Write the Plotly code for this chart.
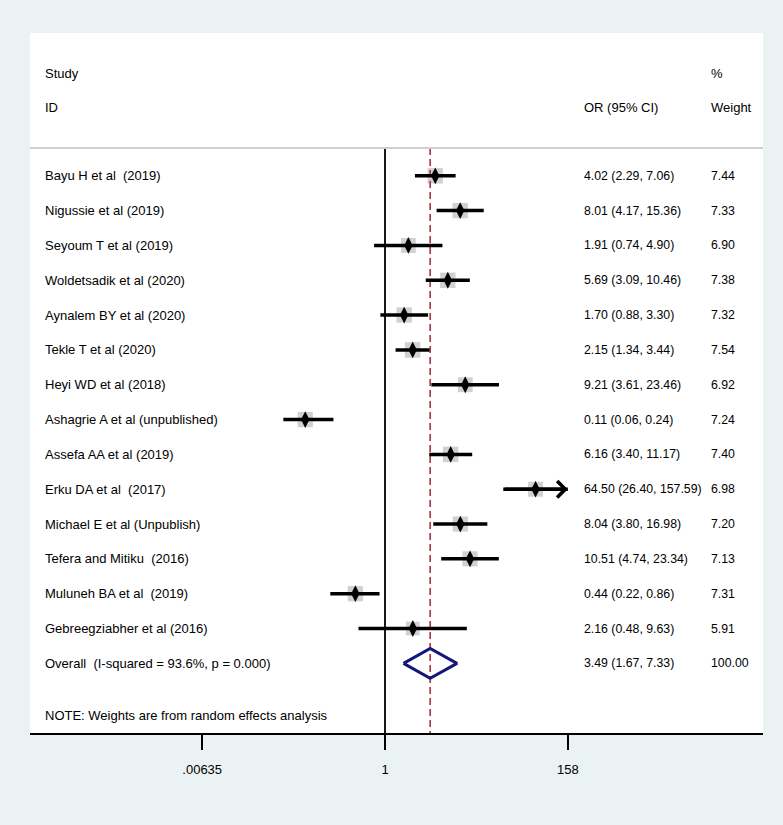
import numpy as np
import plotly.graph_objects as go

# ---------------- data ----------------
studies = [
    "Bayu H et al\u00a0\u00a0(2019)",
    "Nigussie et al (2019)",
    "Seyoum T et al (2019)",
    "Woldetsadik et al (2020)",
    "Aynalem BY et al (2020)",
    "Tekle T et al (2020)",
    "Heyi WD et al (2018)",
    "Ashagrie A et al (unpublished)",
    "Assefa AA et al (2019)",
    "Erku DA et al\u00a0\u00a0(2017)",
    "Michael E et al (Unpublish)",
    "Tefera and Mitiku\u00a0\u00a0(2016)",
    "Muluneh BA et al\u00a0\u00a0(2019)",
    "Gebreegziabher et al (2016)",
]
odds_ratio = [4.02, 8.01, 1.91, 5.69, 1.70, 2.15, 9.21, 0.11, 6.16, 64.50, 8.04, 10.51, 0.44, 2.16]
ci_lower = [2.29, 4.17, 0.74, 3.09, 0.88, 1.34, 3.61, 0.06, 3.40, 26.40, 3.80, 4.74, 0.22, 0.48]
ci_upper = [7.06, 15.36, 4.90, 10.46, 3.30, 3.44, 23.46, 0.24, 11.17, 157.59, 16.98, 23.34, 0.86, 9.63]
weights = [7.44, 7.33, 6.90, 7.38, 7.32, 7.54, 6.92, 7.24, 7.40, 6.98, 7.20, 7.13, 7.31, 5.91]

overall_label = "Overall\u00a0\u00a0(I-squared = 93.6%, p = 0.000)"
overall_or = 3.49
overall_lower = 1.67
overall_upper = 7.33
overall_weight = 100.00
note_text = "NOTE: Weights are from random effects analysis"

tick_values = [0.00635, 1, 158]
tick_labels = [".00635", "1", "158"]
null_value = 1
axis_max = 158

# ---------------- style ----------------
FONT = "Liberation Sans, Arial, Helvetica, sans-serif"
FS = 13
FS_NUM = 12.3
BG = "#EAF2F3"
GRAY_BOX = "#BEBEBE"
NAVY = "#15157A"
MAROON = "#A83240"

n = len(studies)
rows = list(range(n))
overall_row = n
note_row = n + 1.5
header_line_row = -0.8
bottom_row = 16
top_row = -4.1

lx = lambda v: float(np.log10(v))

fig = go.Figure()

# weight boxes
box_sizes = [15.5 * np.sqrt(w / 7.5) for w in weights]
fig.add_trace(go.Scatter(
    x=[lx(v) for v in odds_ratio], y=rows, mode="markers",
    marker=dict(symbol="square", size=box_sizes, color=GRAY_BOX, line=dict(width=0)),
    hoverinfo="skip", showlegend=False))

# null line and overall line
fig.add_trace(go.Scatter(
    x=[lx(null_value), lx(null_value)], y=[header_line_row, bottom_row], mode="lines",
    line=dict(color="black", width=1.8), hoverinfo="skip", showlegend=False))
fig.add_trace(go.Scatter(
    x=[lx(overall_or), lx(overall_or)], y=[header_line_row, bottom_row], mode="lines",
    line=dict(color=MAROON, width=1.6, dash="7px,4px"), hoverinfo="skip", showlegend=False))

# CI lines
xs, ys = [], []
for i, (lo, hi) in enumerate(zip(ci_lower, ci_upper)):
    xs += [lx(lo), lx(min(hi, axis_max)), None]
    ys += [i, i, None]
fig.add_trace(go.Scatter(x=xs, y=ys, mode="lines", line=dict(color="black", width=3.5),
                         hoverinfo="skip", showlegend=False))

# point estimates
fig.add_trace(go.Scatter(
    x=[lx(v) for v in odds_ratio], y=rows, mode="markers",
    marker=dict(symbol="diamond-tall", size=12, color="black"),
    hoverinfo="skip", showlegend=False))

# arrows for CIs reaching the axis limit
annotations = []
for i, (lo, hi) in enumerate(zip(ci_lower, ci_upper)):
    if hi > 100:
        annotations.append(dict(
            x=lx(min(hi, axis_max)), y=i, ax=lx(lo), ay=i, xref="x", yref="y",
            axref="x", ayref="y", text="", showarrow=True, arrowhead=4,
            arrowsize=0.9, arrowwidth=3.5, arrowcolor="black", standoff=0, startstandoff=0))

# overall diamond
h = 0.43
fig.add_trace(go.Scatter(
    x=[lx(overall_lower), lx(overall_or), lx(overall_upper), lx(overall_or), lx(overall_lower)],
    y=[overall_row, overall_row - h, overall_row, overall_row + h, overall_row],
    mode="lines", line=dict(color=NAVY, width=3), hoverinfo="skip", showlegend=False))

# text columns
X_LABEL = (43 - 30) / 733
X_OR = (582 - 30) / 733
X_W = (709 - 30) / 733

def txt(x, y, s, size=FS):
    annotations.append(dict(x=x, y=y, xref="paper", yref="y", text=s, showarrow=False,
                            xanchor="left", yanchor="middle",
                            font=dict(family=FONT, size=size, color="black")))

txt(X_LABEL, -2.95, "Study")
txt(X_LABEL, -1.97, "ID")
txt(X_OR, -1.97, "OR (95% CI)")
txt(X_W, -2.95, "%")
txt(X_W, -1.97, "Weight")

for i in rows:
    txt(X_LABEL, i, studies[i])
    txt(X_OR, i, f"{odds_ratio[i]:.2f} ({ci_lower[i]:.2f}, {ci_upper[i]:.2f})", FS_NUM)
    txt(X_W, i, f"{weights[i]:.2f}", FS_NUM)

txt(X_LABEL, overall_row, overall_label)
txt(X_OR, overall_row, f"{overall_or:.2f} ({overall_lower:.2f}, {overall_upper:.2f})", FS_NUM)
txt(X_W, overall_row, f"{overall_weight:.2f}", FS_NUM)
txt(X_LABEL, note_row, note_text)

shapes = [dict(type="line", xref="paper", yref="y", x0=0, x1=1,
               y0=header_line_row, y1=header_line_row,
               line=dict(color="#CFCFCF", width=2))]

fig.update_layout(
    width=783, height=825,
    margin=dict(l=30, r=20, t=33, b=92),
    paper_bgcolor=BG, plot_bgcolor="white",
    showlegend=False,
    annotations=annotations, shapes=shapes,
    font=dict(family=FONT, size=FS, color="black"),
    xaxis=dict(range=[(30 - 385) / 83.2, (763 - 385) / 83.2],
               tickvals=[lx(v) for v in tick_values], ticktext=tick_labels,
               showgrid=False, zeroline=False, showline=True, linecolor="black",
               linewidth=2, ticks="outside", ticklen=15, tickwidth=2, tickcolor="black",
               ticklabelstandoff=8,
               tickfont=dict(family=FONT, size=FS, color="black"), fixedrange=True),
    yaxis=dict(range=[bottom_row, top_row], visible=False, showgrid=False,
               zeroline=False, fixedrange=True),
)

fig.write_html(
    "out.html",
    config={"displayModeBar": False},
    post_script="document.body.style.margin='0';document.body.style.background='%s';" % BG,
)
